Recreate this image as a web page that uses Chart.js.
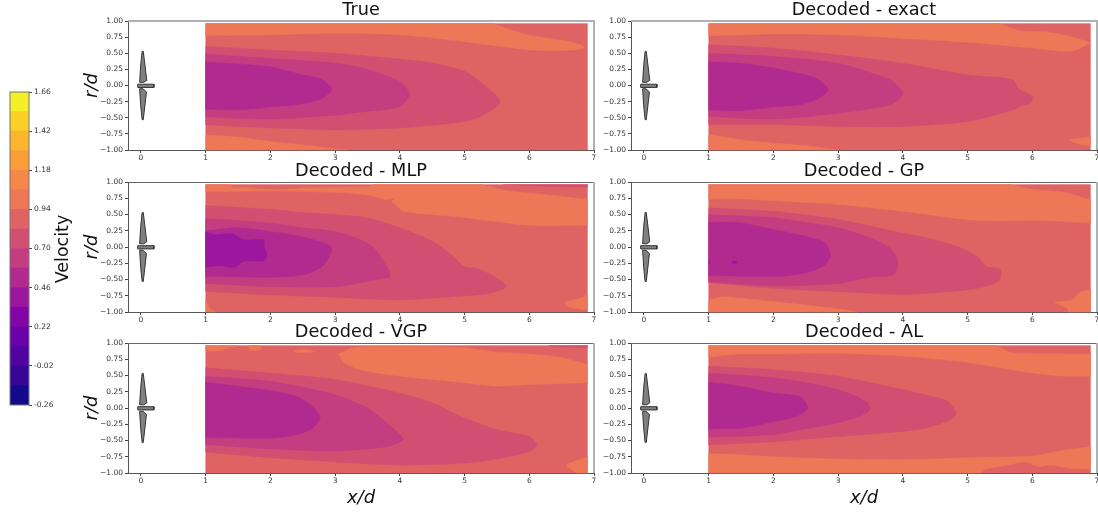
<!DOCTYPE html>
<html><head><meta charset="utf-8">
<script src="https://cdn.jsdelivr.net/npm/chart.js@4"></script>
<style>html,body{margin:0;padding:0;background:#fff;width:1098px;height:512px;overflow:hidden}canvas{position:absolute}</style>
</head><body>
<script>
const bandColors=['#130a8b','#380599','#5302a2','#6c00a8','#8405a7','#9c179e','#b12a90','#c33d80','#d24f71','#e06363','#ed7757','#f58849','#fb9e3a','#fdb52e','#fbd026','#f4ef26'];
const colorbarTicks=[-0.26,-0.02,0.22,0.46,0.70,0.94,1.18,1.42,1.66];
const bandStep=0.12;
const xTicks=[0,1,2,3,4,5,6,7];
const rTicks=[-1,-0.75,-0.5,-0.25,0,0.25,0.5,0.75,1];
const titles=['True','Decoded - exact','Decoded - MLP','Decoded - GP','Decoded - VGP','Decoded - AL'];

const fieldBox=[[1,.96],[6.9,.96],[6.9,-1],[1,-1]];
const bladeUp=[[.018,.53],[.036,.53],[.09,.08],[.045,.05],[-.02,.05],[-.005,.3]];
const bladeDown=[[.018,-.53],[.036,-.53],[.085,-.1],[.03,-.05],[-.02,-.05],[-.005,-.3]];
const hub=[[-.05,.02],[.2,.02],[.2,-.03],[-.05,-.03]];

const trueTop=[[1,.96],[5.45,.96],[5.7,.87],[6,.78],[6.5,.7],[6.8,.63],[6.85,.59],[6.7,.55],[6.3,.54],[6,.55],[5,.68],[4,.785],[3,.81],[2,.785],[1,.77]];
const trueBottom=[[1,-.765],[1.5,-.8],[2,-.87],[2.5,-.92],[3,-.98],[3.2,-1],[1,-1]];
const trueL53=[[1,.61],[2,.55],[3,.5],[4,.41],[4.5,.35],[5,.22],[5.3,.01],[5.55,-.25],[5.3,-.455],[5,-.56],[4,-.66],[3,-.69],[2,-.66],[1,-.61]];
const trueL47=[[1,.49],[2,.42],[3,.35],[3.5,.25],[4,.06],[4.15,-.13],[4,-.33],[3.5,-.4],[3,-.46],[2,-.52],[1,-.49]];
const trueL40=[[1,.37],[1.5,.335],[2,.29],[2.5,.165],[2.8,.09],[2.95,-.06],[2.8,-.2],[2.4,-.3],[2,-.335],[1.5,-.38],[1,-.37]];

const exactTop=[[1,.96],[5.5,.96],[5.8,.85],[6.2,.83],[6.6,.76],[6.9,.66],[6.6,.53],[6,.58],[5,.67],[4,.73],[3,.785],[2,.8],[1,.77]];
const exactBottom=[[1,-.76],[1.5,-.84],[2,-.89],[2.5,-.93],[3,-1],[1,-1]];
const exactCorner=[[6.55,-.84],[6.9,-.8],[6.9,-.93],[6.75,-.92]];
const exactL53=[[1,.63],[2,.58],[3,.475],[4,.345],[5,.165],[5.7,.09],[5.8,-.06],[6,-.17],[5.98,-.27],[5.85,-.31],[5.7,-.38],[5,-.56],[4,-.635],[3,-.635],[2,-.61],[1,-.61]];
const exactL47=[[1,.5],[2,.45],[3,.345],[3.6,.165],[3.85,.06],[4,-.13],[3.8,-.3],[3,-.43],[2,-.52],[1,-.48]];
const exactL40=[[1,.37],[1.5,.345],[2,.27],[2.5,.165],[2.7,.09],[2.85,-.06],[2.7,-.2],[2.4,-.3],[2,-.335],[1.5,-.39],[1,-.38]];

const mlpTop=[[1,.96],[1.38,.96],[1.42,.92],[1.6,.92],[2.1,.88],[2.5,.91],[3.5,.93],[3.6,.96],[5.25,.96],[5.7,.86],[6.2,.81],[6.9,.73],[6.9,.335],[6,.335],[4.85,.47],[4.05,.55],[3.9,.68],[3.5,.8],[3,.84],[2,.86],[1,.85]];
const mlpBlob=[[3.7,.71],[3.9,.74],[3.85,.69],[3.75,.68]];
const mlpCornerBottom=[[6.9,-.73],[6.75,-.8],[6.55,-.85],[6.6,-.92],[6.75,-.95],[6.9,-.97]];
const mlpCornerLeft=[[1,-.8],[1.05,-.93],[1.15,-1],[1,-1]];
const mlpMagenta=[[5.6,.96],[6.9,.96],[6.9,.92],[6.3,.93]];
const mlpL53=[[1,.64],[2,.58],[2.5,.53],[3,.5],[3.5,.45],[4,.295],[4.5,.09],[4.8,-.12],[5,-.3],[5.2,-.33],[5.5,-.48],[5.65,-.61],[5.4,-.71],[5,-.75],[4,-.815],[3,-.775],[2,-.74],[1,-.68]];
const mlpL47=[[1,.44],[2,.37],[2.5,.295],[3,.24],[3.4,.11],[3.6,-.015],[3.8,-.3],[3.85,-.455],[3.6,-.51],[3,-.61],[2,-.61],[1,-.56]];
const mlpL40=[[1,.25],[1.5,.295],[2,.24],[2.5,.155],[2.9,.035],[2.95,-.05],[2.8,-.3],[2.5,-.43],[2,-.465],[1,-.455]];
const mlpL33=[[1,.23],[1.15,.19],[1.4,.205],[1.6,.11],[1.9,.11],[1.9,.01],[1.95,-.12],[1.9,-.21],[1.6,-.22],[1.45,-.31],[1.2,-.29],[1,-.31]];

const gpTop=[[1,.96],[5.65,.96],[6,.89],[6.5,.84],[6.9,.73],[6.9,.37],[6,.41],[5.5,.4],[5,.42],[4,.55],[3,.655],[2,.71],[1.5,.74],[1,.74]];
const gpBottom=[[1,-.815],[1.2,-.765],[1.5,-.79],[2,-.84],[3,-.95],[3.3,-1],[1,-1]];
const gpCorner=[[6.9,-.66],[6.75,-.69],[6.6,-.82],[6.35,-.85],[6.55,-.95],[6.55,-1],[6.9,-1]];
const gpL53=[[1,.605],[2,.55],[3,.425],[4,.215],[4.5,.11],[4.9,-.015],[5.15,-.145],[5.3,-.3],[5.5,-.34],[5.5,-.5],[5.3,-.6],[5,-.66],[4,-.73],[3,-.69],[2,-.635],[1,-.55]];
const gpL47=[[1,.5],[2,.45],[3,.295],[3.5,.14],[3.8,-.015],[3.9,-.145],[3.92,-.3],[3.85,-.43],[3.5,-.465],[3,-.56],[2,-.6],[1,-.54]];
const gpL40=[[1,.38],[1.5,.37],[2,.27],[2.5,.165],[2.8,.06],[2.88,-.12],[2.8,-.27],[2.5,-.4],[2,-.455],[1,-.44]];
const gpDotA=[[1.35,-.235],[1.4,-.21],[1.45,-.235],[1.4,-.26]];
const gpDotB=[[1,-.22],[1.03,-.235],[1,-.25]];

const vgpBlobA=[[1,.96],[1.5,.96],[1.3,.91],[1.2,.88],[1,.88]];
const vgpBlobB=[[1.65,.96],[1.85,.96],[1.85,.9],[1.7,.88]];
const vgpBlobC=[[2.35,.88],[2.5,.9],[2.7,.87],[2.4,.85]];
const vgpTop=[[3.05,.83],[3.28,.93],[3.8,.95],[5,.93],[5.4,.87],[6,.83],[6.5,.775],[6.9,.67],[6.9,.39],[6,.36],[5.5,.335],[5,.39],[4,.49],[3.38,.59],[3.12,.7]];
const vgpMagenta=[[6.3,.96],[6.9,.96],[6.9,.93],[6.5,.94]];
const vgpCorner=[[6.9,-.75],[6.58,-.88],[6.73,-1],[6.9,-1]];
const vgpL53=[[1,.62],[2,.54],[3,.44],[4,.23],[4.5,.08],[5,-.155],[5.5,-.335],[6,-.44],[6.12,-.57],[6,-.67],[5.5,-.785],[5,-.85],[4,-.88],[3,-.83],[2,-.765],[1,-.68]];
const vgpL47=[[1,.49],[2,.41],[3,.205],[3.5,0],[3.8,-.23],[4.05,-.475],[3.8,-.595],[3,-.66],[2,-.63],[1,-.56]];
const vgpL40=[[1,.4],[1.5,.335],[2,.27],[2.4,.18],[2.65,.025],[2.77,-.14],[2.65,-.31],[2.4,-.41],[2,-.465],[1,-.455]];

const alTop=[[1,.96],[5.45,.96],[5.68,.85],[6,.84],[6.9,.83],[6.9,.49],[6.5,.49],[6,.54],[5,.7],[4,.8],[3,.84],[2,.83],[1.5,.83],[1,.785]];
const alBottom=[[1,-.7],[1.5,-.72],[2,-.75],[3,-.785],[4,-.795],[5,-.765],[6,-.74],[6.5,-.645],[6.9,-.595],[6.9,-.94],[6.85,-.94],[6.6,-.93],[6.27,-.88],[6.1,-.9],[5.9,-.83],[5.6,-.88],[5.3,-.94],[5.2,-1],[1,-1]];
const alL53=[[1,.645],[2,.59],[3,.49],[4,.285],[4.5,.165],[4.7,.1],[4.8,-.025],[4.82,-.105],[4.7,-.2],[4.3,-.32],[4,-.36],[3,-.44],[2,-.52],[1,-.57]];
const alL47=[[1,.54],[2,.465],[2.5,.39],[3,.285],[3.3,.17],[3.45,.08],[3.5,-.01],[3.4,-.1],[3,-.23],[2.5,-.32],[2,-.41],[1,-.45]];
const alL40=[[1,.4],[1.5,.335],[2,.23],[2.4,.18],[2.5,.08],[2.53,-.01],[2.35,-.13],[2,-.21],[1.5,-.31],[1,-.32]];

// colour band index per contour, painted back to front
const B33=5,B40=6,B47=7,B53=8,B60=9,B67=10;
const panelLayers=[
 [[B60,fieldBox],[B67,trueTop],[B67,trueBottom],[B53,trueL53],[B47,trueL47],[B40,trueL40]],
 [[B60,fieldBox],[B67,exactTop],[B67,exactBottom],[B67,exactCorner],[B53,exactL53],[B47,exactL47],[B40,exactL40]],
 [[B60,fieldBox],[B67,mlpTop],[B60,mlpBlob],[B67,mlpCornerBottom],[B67,mlpCornerLeft],[B53,mlpMagenta],[B53,mlpL53],[B47,mlpL47],[B40,mlpL40],[B33,mlpL33]],
 [[B60,fieldBox],[B67,gpTop],[B67,gpBottom],[B67,gpCorner],[B53,gpL53],[B47,gpL47],[B40,gpL40],[B33,gpDotA],[B33,gpDotB]],
 [[B60,fieldBox],[B67,vgpBlobA],[B67,vgpBlobB],[B67,vgpBlobC],[B67,vgpTop],[B53,vgpMagenta],[B67,vgpCorner],[B53,vgpL53],[B47,vgpL47],[B40,vgpL40]],
 [[B60,fieldBox],[B67,alTop],[B67,alBottom],[B53,alL53],[B47,alL47],[B40,alL40]]
];

const FONT='"DejaVu Sans"';
const TICK='#333';
// points on the edge of the field are doubled so the curve keeps a sharp corner there
const onEdge=p=>p[0]===1||p[0]===6.9||p[1]===.96||p[1]===-1;
const toPts=a=>a.flatMap(p=>onEdge(p)?[{x:p[0],y:p[1]},{x:p[0],y:p[1]}]:[{x:p[0],y:p[1]}]);

const polygons={id:'polygons',
 beforeDatasetDraw(chart,args){
  const ds=chart.data.datasets[args.index],line=args.meta.dataset,ctx=chart.ctx;
  line.updateControlPoints(chart.chartArea,'x');
  ctx.save();ctx.beginPath();line.path(ctx);ctx.closePath();
  ctx.fillStyle=ds.backgroundColor;ctx.fill();
  if(ds.edge){ctx.strokeStyle=ds.edge;ctx.lineWidth=1;ctx.stroke();}
  else{ctx.strokeStyle=ds.backgroundColor;ctx.lineWidth=.4;ctx.stroke();}
  ctx.restore();
 }};
const spines={id:'spines',afterDraw(chart,a,o){
  const {left,right,top,bottom}=chart.chartArea,ctx=chart.ctx;
  ctx.save();
  ctx.strokeStyle=o.topColor;ctx.lineWidth=o.topWidth;ctx.beginPath();ctx.moveTo(left,top+(o.topWidth===1?.5:0));ctx.lineTo(right+1,top+(o.topWidth===1?.5:0));ctx.stroke();
  ctx.strokeStyle=o.rightColor;ctx.lineWidth=o.rightWidth;ctx.beginPath();ctx.moveTo(right,top);ctx.lineTo(right,bottom);ctx.stroke();
  ctx.restore();
}};

const rowTop=[21,182,343],rowH=[129,130,130],colLeft=[128,631],areaW=466;
titles.forEach((title,i)=>{
 const col=i%2,row=Math.floor(i/2),bottomRow=row===2,leftCol=col===0;
 const yW=45,titleH=22,xH=bottomRow?34:16,padR=8,areaH=rowH[row];
 const c=document.createElement('canvas');
 const W=yW+areaW+padR,H=titleH+areaH+xH;
 c.width=W;c.height=H;c.style.width=W+'px';c.style.height=H+'px';
 c.style.left=(colLeft[col]-yW)+'px';c.style.top=(rowTop[row]-titleH)+'px';
 document.body.appendChild(c);
 const layers=panelLayers[i].map(l=>({data:toPts(l[1]),backgroundColor:bandColors[l[0]],tension:.25}));
 [bladeUp,bladeDown,hub].forEach(g=>layers.push({data:g.map(p=>({x:p[0],y:p[1]})),backgroundColor:'#808080',edge:'#333',tension:0}));
 layers.forEach(d=>{d.showLine=true;d.borderWidth=0;d.pointRadius=0;d.pointHoverRadius=0;});
 new Chart(c,{type:'scatter',data:{datasets:layers.reverse()},plugins:[polygons,spines],options:{
  responsive:false,animation:false,devicePixelRatio:1,events:[],
  layout:{padding:{left:0,right:padR,top:0,bottom:0}},
  plugins:{legend:{display:false},tooltip:{enabled:false},
   title:{display:true,text:title,fullSize:false,color:'#111',font:{family:FONT,size:17.7,weight:'normal',lineHeight:1},padding:{top:3,bottom:1.3}},
   spines:{topColor:row===0?'#b0b0b0':'#666',topWidth:row===0?2:1,rightColor:'#b0b0b0',rightWidth:2}},
  scales:{
   x:{type:'linear',min:-.2,max:7,afterFit(s){s.height=xH;},afterBuildTicks(s){s.ticks=xTicks.map(v=>({value:v}));},
    border:{color:'#555',width:1},grid:{drawOnChartArea:false,drawTicks:true,tickLength:3,tickColor:'#444'},
    ticks:{color:TICK,font:{family:FONT,size:7.5},padding:1,maxRotation:0,autoSkip:false,callback:v=>String(v)},
    title:{display:bottomRow,text:'x/d',color:'#111',font:{family:FONT,size:18,style:'italic',lineHeight:1},padding:{top:0,bottom:0}}},
   y:{type:'linear',min:-1,max:1,afterFit(s){s.width=yW;},afterBuildTicks(s){s.ticks=rTicks.map(v=>({value:v}));},
    border:{color:'#555',width:1},grid:{drawOnChartArea:false,drawTicks:true,tickLength:3,tickColor:'#444'},
    ticks:{color:TICK,font:{family:FONT,size:7.5},padding:2,autoSkip:false,callback:v=>(v<0?'\u2212':'')+Math.abs(v).toFixed(2)},
    title:{display:leftCol,text:'r/d',color:'#111',font:{family:FONT,size:18,style:'italic',lineHeight:1},padding:{top:0,bottom:0}}}
  }}});
});

// colour bar
const barCanvas=document.createElement('canvas');
barCanvas.width=80;barCanvas.height=340;barCanvas.style.cssText='left:0;top:80px;width:80px;height:340px';
document.body.appendChild(barCanvas);
const barSets=bandColors.map((col,i)=>{const lo=colorbarTicks[0]+i*bandStep;return {data:[[lo,lo+bandStep]],backgroundColor:col,borderWidth:0,barPercentage:1,categoryPercentage:1};});
const velocityLabel={id:'velocityLabel',afterDraw(chart){
  const ctx=chart.ctx;ctx.save();ctx.translate(63,169);ctx.rotate(-Math.PI/2);
  ctx.font='17.5px '+FONT;ctx.fillStyle='#111';ctx.textAlign='center';ctx.textBaseline='middle';
  ctx.fillText('Velocity',0,0);ctx.restore();
}};
const barOutline={id:'barOutline',afterDraw(chart){
  const {left,right,top,bottom}=chart.chartArea,ctx=chart.ctx;
  ctx.save();ctx.strokeStyle='#777';ctx.lineWidth=1;ctx.strokeRect(left,top,right-left,bottom-top);ctx.restore();
}};
new Chart(barCanvas,{type:'bar',data:{labels:['v'],datasets:barSets},plugins:[velocityLabel,barOutline],options:{
 responsive:false,animation:false,devicePixelRatio:1,events:[],
 layout:{padding:{left:10,right:0,top:12,bottom:15}},
 plugins:{legend:{display:false},tooltip:{enabled:false},title:{display:false}},
 scales:{
  x:{display:false,stacked:true},
  y:{position:'right',min:colorbarTicks[0],max:colorbarTicks[colorbarTicks.length-1],
   afterFit(s){s.width=51;},afterBuildTicks(s){s.ticks=colorbarTicks.map(v=>({value:v}));},
   border:{display:false},grid:{drawOnChartArea:false,drawTicks:true,tickLength:3,tickColor:'#444'},
   ticks:{color:TICK,font:{family:FONT,size:7.5},padding:2,autoSkip:false,callback:v=>v.toFixed(2)}}
 }}});
</script>
</body></html>
